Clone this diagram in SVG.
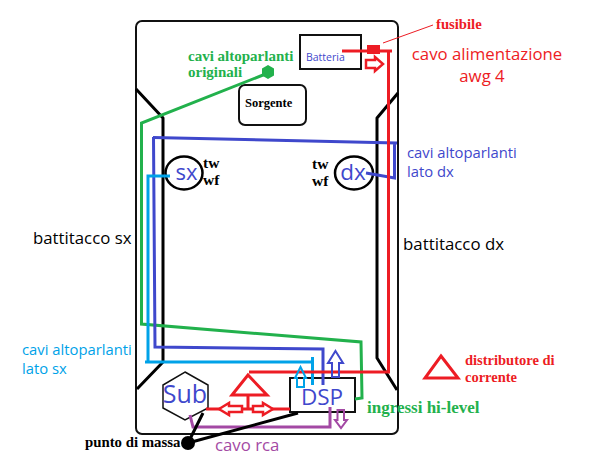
<svg xmlns="http://www.w3.org/2000/svg" width="600" height="457" viewBox="0 0 600 457">
<style>
  .box { fill: #fff; stroke: #111; stroke-width: 2; }
  .black { fill: none; stroke: #000; stroke-width: 3; stroke-linejoin: round; }
  .wire { fill: none; stroke-width: 3; stroke-linejoin: miter; }
  .outline { fill: #fff; stroke-width: 2.5; }
  .red { stroke: #ed1c24; }
  .green { stroke: #22b14c; }
  .blue { stroke: #3f48cc; }
  .cyan { stroke: #00a2e8; }
  .purple { stroke: #a349a4; }
  .sans { font-family: "Open Sans", "Noto Sans", sans-serif; }
  .serif { font-family: "Liberation Serif", serif; font-weight: bold; }
  .t-red { fill: #ed1c24; }
  .t-green { fill: #22b14c; }
  .t-blue { fill: #3f48cc; }
  .t-cyan { fill: #00a2e8; }
  .t-purple { fill: #a349a4; }
  .t-black { fill: #000; }
</style>

<!-- car body and door sills -->
<g id="car">
  <rect x="136" y="21" width="262" height="413" rx="6" fill="#fff" stroke="#111" stroke-width="2"/>
  <path class="black" d="M136 89 L163 118 V362 L137 389"/>
  <path class="black" d="M398 93 L377 118 V358 L397 390"/>
  <text class="sans t-black" x="33" y="244" font-size="16.800" font-weight="500">battitacco sx</text>
  <text class="sans t-black" x="403" y="250" font-size="16.800" font-weight="500" textLength="101" lengthAdjust="spacingAndGlyphs">battitacco dx</text>
</g>

<g id="batteria">
  <rect class="box" x="300" y="35" width="61" height="34"/>
  <text class="sans t-blue" x="306" y="61" font-size="10.500">Batteria</text>
</g>

<g id="sorgente">
  <rect class="box" x="239" y="85" width="67" height="40" rx="6"/>
  <text class="serif t-black" x="245" y="107" font-size="12.500">Sorgente</text>
</g>

<g id="altoparlante-sx">
  <ellipse cx="184" cy="173" rx="18.500" ry="16.500" fill="#fff" stroke="#000" stroke-width="2.500"/>
  <text class="sans t-blue" x="186.500" y="180" font-size="22" text-anchor="middle">sx</text>
  <text class="serif t-black" x="203" y="168" font-size="15.500">tw</text>
  <text class="serif t-black" x="203" y="185" font-size="15.500">wf</text>
</g>

<g id="altoparlante-dx">
  <ellipse cx="354" cy="173" rx="19" ry="16.500" fill="#fff" stroke="#000" stroke-width="2.500"/>
  <text class="sans t-blue" x="353" y="180" font-size="22.500" text-anchor="middle">dx</text>
  <text class="serif t-black" x="312" y="169" font-size="15.500">tw</text>
  <text class="serif t-black" x="312" y="186" font-size="15.500">wf</text>
</g>

<g id="sub">
  <polygon points="185,372 208,385 208,408 185,420 163,408 163,385" fill="#fff" stroke="#111" stroke-width="1.500"/>
  <text class="sans t-blue" x="185" y="403" font-size="25" text-anchor="middle">Sub</text>
</g>

<g id="dsp">
  <rect class="box" x="290" y="378" width="65" height="34" fill-opacity="0"/>
  <text class="sans t-blue" x="322" y="405" font-size="22.500" text-anchor="middle">DSP</text>
</g>

<!-- wiring -->
<g id="connectors">
  <path class="wire green" d="M268 73 L141.500 123 V324 L361 342 L362 398 L355 399"/>
  <polygon points="268,65 274,68.500 274,75.500 268,79 262,75.500 262,68.500" fill="#22b14c"/>

  <path class="wire blue" d="M153 137.500 L397 143 M394.500 143 V178 L366 173"/>
  <path class="wire blue" d="M153.500 137 L155 347 L323 349 V385"/>
  <path class="wire cyan" d="M170 176 H148 V362 M145 362 H312.500 M312.500 357 V385"/>

  <path class="wire red" d="M342 51 H392 M388.500 52 V372 L249 372"/>
  <rect x="367" y="45" width="13" height="9" fill="#ed1c24"/>
  <path d="M383 43 L433 25" fill="none" stroke="#ed1c24" stroke-width="1"/>
  <path class="wire red" d="M206 409 H290 M248 395 V408"/>
  <polygon points="248,375 232,395 267,395" fill="none" stroke="#ed1c24" stroke-width="3"/>

  <path class="wire purple" d="M190 415 L193 427 H330 V407"/>
  <path class="black" d="M203 413 L188 443 L298 413"/>
  <circle cx="188" cy="443" r="7" fill="#000"/>

  <!-- signal direction arrows -->
  <path class="outline red" d="M366 60 H375 V57 L383 64 L375 71 V68 H366 Z"/>
  <path class="outline red" stroke-width="2" d="M219 409 L229 403 V406 H242 V412 H229 V415 Z"/>
  <path class="outline red" stroke-width="2" d="M273 409 L263 403 V406 H253 V412 H263 V415 Z"/>
  <path fill="none" stroke="#3f48cc" stroke-width="2" d="M335.500 351 L343 363 H339 V377 H332 V363 H328 Z"/>
  <path fill="none" stroke="#00a2e8" stroke-width="2" d="M300.500 367 L306 378 H304 V387 H297 V378 H295 Z"/>
  <path fill="none" stroke="#a349a4" stroke-width="2" d="M337.500 410 H344 V420 H347 L341 428 L335 420 H337.500 Z"/>
</g>

<g id="distributore">
  <polygon points="441,356 458,378 425,378" fill="none" stroke="#ed1c24" stroke-width="3"/>
  <text class="serif t-red" x="465" y="365" font-size="14.500">distributore di</text>
  <text class="serif t-red" x="465" y="382" font-size="14.500">corrente</text>
</g>

<g id="etichette">
  <text class="serif t-green" x="188" y="61" font-size="15">cavi altoparlanti</text>
  <text class="serif t-green" x="188" y="77" font-size="15">originali</text>
  <text class="serif t-red" x="436" y="29" font-size="14.700">fusibile</text>
  <text class="sans t-red" x="487" y="60" font-size="16.800" text-anchor="middle">cavo alimentazione</text>
  <text class="sans t-red" x="482" y="82" font-size="16.800" text-anchor="middle">awg 4</text>
  <text class="sans t-blue" x="407" y="158" font-size="14.800">cavi altoparlanti</text>
  <text class="sans t-blue" x="407" y="177" font-size="14.800">lato dx</text>
  <text class="sans t-cyan" x="22" y="355" font-size="14.800">cavi altoparlanti</text>
  <text class="sans t-cyan" x="22" y="374" font-size="14.800">lato sx</text>
  <text class="serif t-green" x="367" y="413" font-size="17">ingressi hi-level</text>
  <text class="serif t-black" x="85" y="447" font-size="14.800">punto di massa</text>
  <text class="sans t-purple" x="215" y="451" font-size="16.800">cavo rca</text>
</g>
</svg>
